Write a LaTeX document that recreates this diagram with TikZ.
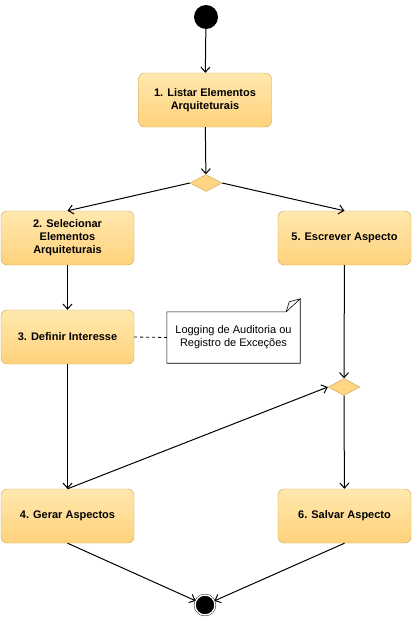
\documentclass[tikz,border=0pt]{standalone}
\usepackage{fontspec}
\setmainfont{Liberation Sans}
\usetikzlibrary{arrows.meta,shapes.geometric}
\definecolor{acttop}{HTML}{FFE8AE}
\definecolor{actbot}{HTML}{FFD27C}
\definecolor{actline}{HTML}{C9A555}

\begin{document}
\begin{tikzpicture}[x=1pt,y=-1pt,
    activity/.style={rectangle, rounded corners=6pt, draw=actline, top color=acttop, bottom color=actbot,
        minimum width=133pt, minimum height=54pt, align=center, font=\fontsize{11}{13}\selectfont\bfseries},
    decision/.style={diamond, draw=actline, fill=actbot!85!acttop, minimum width=32pt, minimum height=17pt, inner sep=0pt},
    startstate/.style={circle, fill=black, minimum size=24pt, inner sep=0pt},
    endstate/.style={circle, fill=black, draw=black, double=white, double distance=1.4pt, minimum size=20pt, inner sep=0pt},
    flow/.style={-{Straight Barb[length=5pt,width=9pt]}, line width=1pt},
    notebox/.style={align=center, font=\fontsize{11}{13}\selectfont, minimum width=133pt, minimum height=51pt}]
        \useasboundingbox (0,0) rectangle (418,632);
        \node[startstate](S) at (206,17) {};
        \node[activity](L) at (205,100) {1. Listar Elementos\\Arquiteturais};
        \node[decision](D1) at (206,183) {};
        \node[activity](E) at (67.5,238) {2. Selecionar\\Elementos\\Arquiteturais};
        \node[activity](W) at (344.5,238) {5. Escrever Aspecto};
        \node[activity](I) at (67.5,337) {3. Definir Interesse};
        \node[notebox](N) at (233.5,337.5) {Logging de Auditoria ou\\Registro de Exceções};
        \node[decision](D2) at (344,387) {};
        \node[activity](G) at (67.5,516) {4. Gerar Aspectos};
        \node[activity](V) at (344.5,516) {6. Salvar Aspecto};
        \node[endstate](F) at (205,605) {};
        % note with folded corner
        \draw[line width=0.6pt] (N.north west) -- ([xshift=-14pt]N.north east) -- ([yshift=13pt]N.north east)
            -- (N.south east) -- (N.south west) -- cycle;
        \draw[line width=0.6pt] ([xshift=-14pt]N.north east) -- ([xshift=-11pt,yshift=10pt]N.north east)
            -- ([yshift=13pt]N.north east);
        \path
            (S) edge [flow] (L)
            (L) edge [flow] (D1)
            (D1.west) edge [flow] (E.north)
            (D1.east) edge [flow] (W.north)
            (E) edge [flow] (I)
            (I) edge [flow] (G)
            (G.north) edge [flow] (D2.west)
            (W) edge [flow] (D2)
            (D2) edge [flow] (V)
            (G.south) edge [flow] (F)
            (V.south) edge [flow] (F)
            ;
        \draw[dashed, line width=0.8pt] (I.east) -- (N.west);
    \end{tikzpicture}
\end{document}
